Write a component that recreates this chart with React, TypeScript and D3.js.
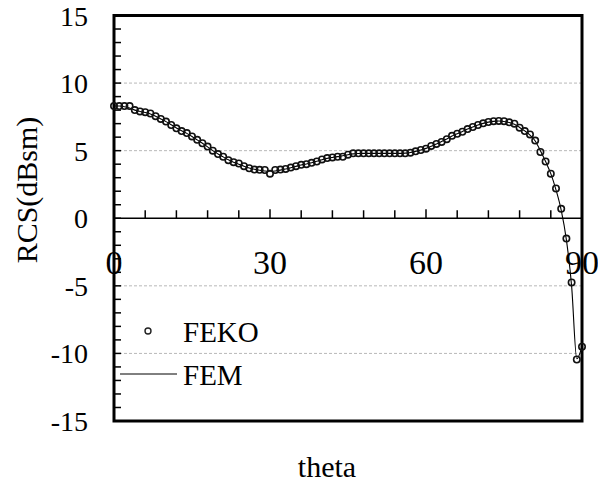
import React from "react";
import * as d3 from "d3";

const thetaDeg: number[] = Array.from({ length: 91 }, (_, i) => i);
const fekoValues: number[] = [
  8.3, 8.3, 8.3, 8.3, 8.0, 7.9, 7.85, 7.75, 7.55, 7.35,
  7.15, 6.9, 6.65, 6.45, 6.3, 6.05, 5.8, 5.55, 5.3, 5.0,
  4.75, 4.55, 4.3, 4.15, 4.05, 3.85, 3.7, 3.6, 3.58, 3.57,
  3.3, 3.57, 3.6, 3.65, 3.75, 3.85, 3.95, 4.0, 4.1, 4.2,
  4.35, 4.45, 4.5, 4.55, 4.55, 4.7, 4.8, 4.8, 4.8, 4.8,
  4.8, 4.8, 4.8, 4.8, 4.8, 4.8, 4.8, 4.85, 4.95, 5.05,
  5.15, 5.35, 5.5, 5.65, 5.85, 6.1, 6.25, 6.4, 6.6, 6.75,
  6.9, 7.02, 7.12, 7.18, 7.2, 7.18, 7.1, 7.0, 6.7, 6.45,
  6.2, 5.75, 4.9, 4.2, 3.3, 2.2, 0.7, -1.5, -4.75, -10.45,
  -9.5,
];
const femValues: number[] = [
  8.3, 8.3, 8.25, 8.15, 8.0, 7.9, 7.82, 7.72, 7.55, 7.35,
  7.15, 6.92, 6.68, 6.47, 6.28, 6.05, 5.8, 5.55, 5.28, 5.0,
  4.76, 4.54, 4.32, 4.15, 4.0, 3.85, 3.72, 3.62, 3.55, 3.5,
  3.48, 3.5, 3.56, 3.64, 3.74, 3.84, 3.94, 4.02, 4.11, 4.21,
  4.33, 4.43, 4.5, 4.56, 4.62, 4.7, 4.76, 4.79, 4.8, 4.8,
  4.8, 4.8, 4.8, 4.8, 4.8, 4.8, 4.82, 4.87, 4.95, 5.05,
  5.17, 5.33, 5.5, 5.67, 5.87, 6.08, 6.25, 6.42, 6.6, 6.75,
  6.9, 7.02, 7.11, 7.17, 7.19, 7.16, 7.08, 6.95, 6.72, 6.46,
  6.15, 5.72, 5.0, 4.2, 3.3, 2.1, 0.6, -1.6, -5.0, -10.4,
  -9.5,
];
const xTickLabels: number[] = [0, 30, 60, 90];
const yTickLabels: number[] = [15, 10, 5, 0, -5, -10, -15];
const gridValues: number[] = [10, 5, -5, -10];

export default function App() {
  const W = 598, H = 483;
  const x = d3.scaleLinear().domain([0, 90]).range([114, 582]);
  const y = d3.scaleLinear().domain([-15, 15]).range([421, 15.5]);
  const left = x(0), right = x(90), top = y(15), bottom = y(-15);
  const font = "'Liberation Serif', 'Times New Roman', serif";

  const line = d3
    .line<number>()
    .x((_, i) => x(thetaDeg[i]))
    .y((d) => y(d))
    .curve(d3.curveMonotoneX);

  const yMinor = d3.range(-15, 16, 1);
  const xMinor = d3.range(0, 91, 6);

  return (
    <svg
      width={W}
      height={H}
      style={{ position: "absolute", left: 0, top: 0, background: "#fff" }}
      fontFamily={font}
    >
      <rect x={0} y={0} width={W} height={H} fill="#fff" />
      {gridValues.map((g) => (
        <line
          key={"g" + g}
          x1={left}
          x2={right}
          y1={y(g)}
          y2={y(g)}
          stroke="#b8b8b8"
          strokeWidth={1}
          strokeDasharray="3,2"
        />
      ))}
      {yMinor.map((v) => (
        <line
          key={"yt" + v}
          x1={left}
          x2={left + 7}
          y1={y(v)}
          y2={y(v)}
          stroke="#000"
          strokeWidth={1.5}
        />
      ))}
      <line x1={left} x2={right} y1={y(0)} y2={y(0)} stroke="#000" strokeWidth={1.6} />
      {xMinor.map((v) => (
        <line
          key={"xt" + v}
          x1={x(v)}
          x2={x(v)}
          y1={y(0)}
          y2={y(0) - (v % 30 === 0 ? 9 : 8)}
          stroke="#000"
          strokeWidth={1.5}
        />
      ))}
      <rect
        x={left}
        y={top}
        width={right - left}
        height={bottom - top}
        fill="none"
        stroke="#000"
        strokeWidth={3}
      />
      <path d={line(femValues) || ""} fill="none" stroke="#000" strokeWidth={1.1} />
      {fekoValues.map((v, i) => (
        <circle
          key={"c" + i}
          cx={x(thetaDeg[i])}
          cy={y(v)}
          r={3.2}
          fill="none"
          stroke="#111"
          strokeWidth={1.6}
        />
      ))}
      {yTickLabels.map((v) => (
        <text
          key={"yl" + v}
          x={88}
          y={y(v) + 10}
          textAnchor="end"
          fontSize={28}
          fill="#000"
        >
          {v}
        </text>
      ))}
      {xTickLabels.map((v) => (
        <text
          key={"xl" + v}
          x={x(v)}
          y={274}
          textAnchor="middle"
          fontSize={34}
          fill="#000"
        >
          {v}
        </text>
      ))}
      <text
        transform={`translate(37,190) rotate(-90)`}
        textAnchor="middle"
        fontSize={30}
        fill="#000"
      >
        RCS(dBsm)
      </text>
      <text x={327} y={477} textAnchor="middle" fontSize={30} fill="#000">
        theta
      </text>
      <circle cx={148} cy={331} r={3} fill="none" stroke="#222" strokeWidth={1.4} />
      <text x={183} y={342} fontSize={29} fill="#000">
        FEKO
      </text>
      <line x1={120} x2={177} y1={374} y2={374} stroke="#000" strokeWidth={1} />
      <text x={183} y={385} fontSize={29} fill="#000">
        FEM
      </text>
    </svg>
  );
}
